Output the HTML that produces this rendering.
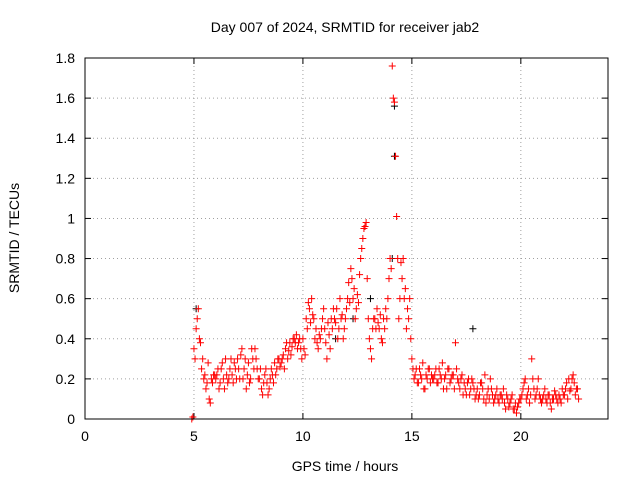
<!DOCTYPE html>
<html><head><meta charset="utf-8"><style>
body{margin:0;background:#fff}
svg{display:block;font-family:"Liberation Sans",Arial,sans-serif}
</style></head><body>
<svg id="chart" width="640" height="480" viewBox="0 0 640 480">
<rect width="640" height="480" fill="#fff"/>
<text x="345" y="32" font-size="14" text-anchor="middle">Day 007 of 2024, SRMTID for receiver jab2</text>
<g id="grid"></g>
<g id="ticks"></g>
<g id="marks"></g>
<rect x="85" y="58" width="523" height="361" fill="none" stroke="#000" stroke-width="1"/>
<text x="345" y="471" font-size="14" text-anchor="middle">GPS time / hours</text>
<text x="0" y="0" font-size="14" text-anchor="middle" transform="translate(19,238) rotate(-90)">SRMTID / TECUs</text>
</svg>
<script>
const xTicks=[0,5,10,15,20];
const yTicks=[0,0.2,0.4,0.6,0.8,1,1.2,1.4,1.6,1.8];
const yTickLabels=["0","0.2","0.4","0.6","0.8","1","1.2","1.4","1.6","1.8"];
const startHour=4.9, stepHour=0.1;
const redValues=[0,0.35,0.45,0.55,0.38,0.3,0.22,0.18,0.1,0.2,0.22,
0.2,0.25,0.18,0.28,0.15,0.22,0.2,0.3,0.18,0.25,
0.3,0.2,0.35,0.25,0.15,0.28,0.2,0.3,0.35,0.25,
0.2,0.15,0.18,0.25,0.12,0.2,0.22,0.28,0.25,0.3,
0.28,0.32,0.35,0.3,0.38,0.36,0.4,0.42,0.38,0.35,
0.4,0.32,0.45,0.55,0.6,0.5,0.45,0.35,0.4,0.5,
0.45,0.3,0.42,0.5,0.55,0.48,0.4,0.6,0.52,0.45,
0.55,0.68,0.75,0.6,0.5,0.62,0.72,0.85,0.95,0.98,
0.5,0.35,0.45,0.5,0.55,0.45,0.4,0.5,0.55,0.6,
0.8,1.76,1.58,1.01,0.5,0.78,0.8,0.65,0.55,0.6,
0.3,0.2,0.25,0.18,0.22,0.28,0.15,0.2,0.25,0.22,
0.2,0.25,0.18,0.22,0.28,0.2,0.15,0.25,0.2,0.22,
0.38,0.2,0.15,0.22,0.18,0.12,0.2,0.15,0.18,0.1,
0.15,0.12,0.18,0.1,0.08,0.15,0.2,0.12,0.1,0.15,
0.08,0.12,0.15,0.05,0.1,0.08,0.12,0.05,0.03,0.08,
0.1,0.15,0.2,0.12,0.08,0.3,0.15,0.12,0.2,0.1,
0.1,0.15,0.08,0.12,0.05,0.1,0.12,0.08,0.1,0.15,
0.12,0.18,0.2,0.15,0.22,0.12,0.15];
const red2Values=[0.01,0.3,0.5,0.4,0.25,0.2,0.15,0.28,0.08,0.18,0.22,
0.22,0.15,0.25,0.2,0.3,0.18,0.25,0.22,0.28,0.2,
0.25,0.32,0.2,0.3,0.22,0.18,0.35,0.25,0.3,0.2,
0.25,0.12,0.22,0.18,0.15,0.25,0.18,0.22,0.3,0.26,
0.3,0.25,0.38,0.34,0.32,0.4,0.38,0.35,0.4,0.3,
0.35,0.5,0.58,0.48,0.52,0.4,0.38,0.42,0.45,0.55,
0.38,0.48,0.35,0.45,0.5,0.55,0.45,0.5,0.4,0.5,
0.6,0.58,0.7,0.65,0.55,0.58,0.8,0.9,0.96,0.7,
0.4,0.3,0.5,0.45,0.48,0.52,0.38,0.45,0.5,0.7,
0.75,1.6,1.31,0.8,0.6,0.7,0.6,0.45,0.5,0.4,
0.25,0.22,0.18,0.25,0.2,0.15,0.22,0.25,0.18,0.2,
0.22,0.18,0.25,0.2,0.15,0.22,0.25,0.18,0.22,0.15,
0.25,0.18,0.2,0.12,0.15,0.18,0.12,0.2,0.15,0.12,
0.1,0.18,0.15,0.22,0.12,0.1,0.15,0.08,0.12,0.1,
0.12,0.1,0.08,0.12,0.06,0.1,0.05,0.08,0.06,0.1,
0.12,0.18,0.1,0.15,0.12,0.2,0.1,0.15,0.12,0.08,
0.12,0.1,0.12,0.08,0.1,0.14,0.1,0.12,0.08,0.12,
0.15,0.1,0.14,0.2,0.18,0.15,0.1];
const blackValues=[0.55,1.56,1.31,0.8,0.6,0.45,0.5,0.4];
const blackHours=[5.1,14.2,14.2,14.1,13.1,17.8,12.3,11.5];

const X0=85,X1=608,Y0=419,Y1=58,XMAX=24,YMAX=1.8;
const sx=v=>X0+(v/XMAX)*(X1-X0);
const sy=v=>Y0-(v/YMAX)*(Y0-Y1);
const NS="http://www.w3.org/2000/svg";
const grid=document.getElementById('grid'),ticks=document.getElementById('ticks'),marks=document.getElementById('marks');
function mk(tag,attrs,parent){const e=document.createElementNS(NS,tag);for(const k in attrs)e.setAttribute(k,attrs[k]);parent.appendChild(e);return e;}
xTicks.forEach(t=>{
  const x=sx(t);
  if(t>0){const g=mk('line',{x1:x,x2:x,y1:Y1,y2:Y0,stroke:'#a0a0a0','stroke-dasharray':'1,3'},grid);
  
  }
  mk('line',{x1:x,x2:x,y1:Y0,y2:Y0-6,stroke:'#000'},ticks);
  mk('line',{x1:x,x2:x,y1:Y1,y2:Y1+6,stroke:'#000'},ticks);
  const l=mk('text',{x:x,y:Y0+22,'font-size':14,'text-anchor':'middle'},ticks);l.textContent=t;
  
  
});
yTicks.forEach((t,i)=>{
  const y=sy(t);
  if(t>0&&t<YMAX){const g=mk('line',{x1:X0,x2:X1,y1:y,y2:y,stroke:'#a0a0a0','stroke-dasharray':'1,3'},grid);
  
  }
  mk('line',{x1:X0,x2:X0+6,y1:y,y2:y,stroke:'#000'},ticks);
  mk('line',{x1:X1,x2:X1-6,y1:y,y2:y,stroke:'#000'},ticks);
  const l=mk('text',{x:X0-10,y:y+5,'font-size':14,'text-anchor':'end'},ticks);l.textContent=yTickLabels[i];
  
  
});
function plus(h,v,color){
  const x=sx(h),y=sy(v);
  const p=mk('path',{d:`M${x-3.5},${y}h7M${x},${y-3.5}v7`,stroke:color,'stroke-width':1,fill:'none'},marks);
  
  
}
blackValues.forEach((v,i)=>plus(blackHours[i],v,'#000'));
redValues.forEach((v,i)=>plus(startHour+i*stepHour,v,'#f00'));
red2Values.forEach((v,i)=>plus(startHour+0.05+i*stepHour,v,'#f00'));
</script>
</body></html>
